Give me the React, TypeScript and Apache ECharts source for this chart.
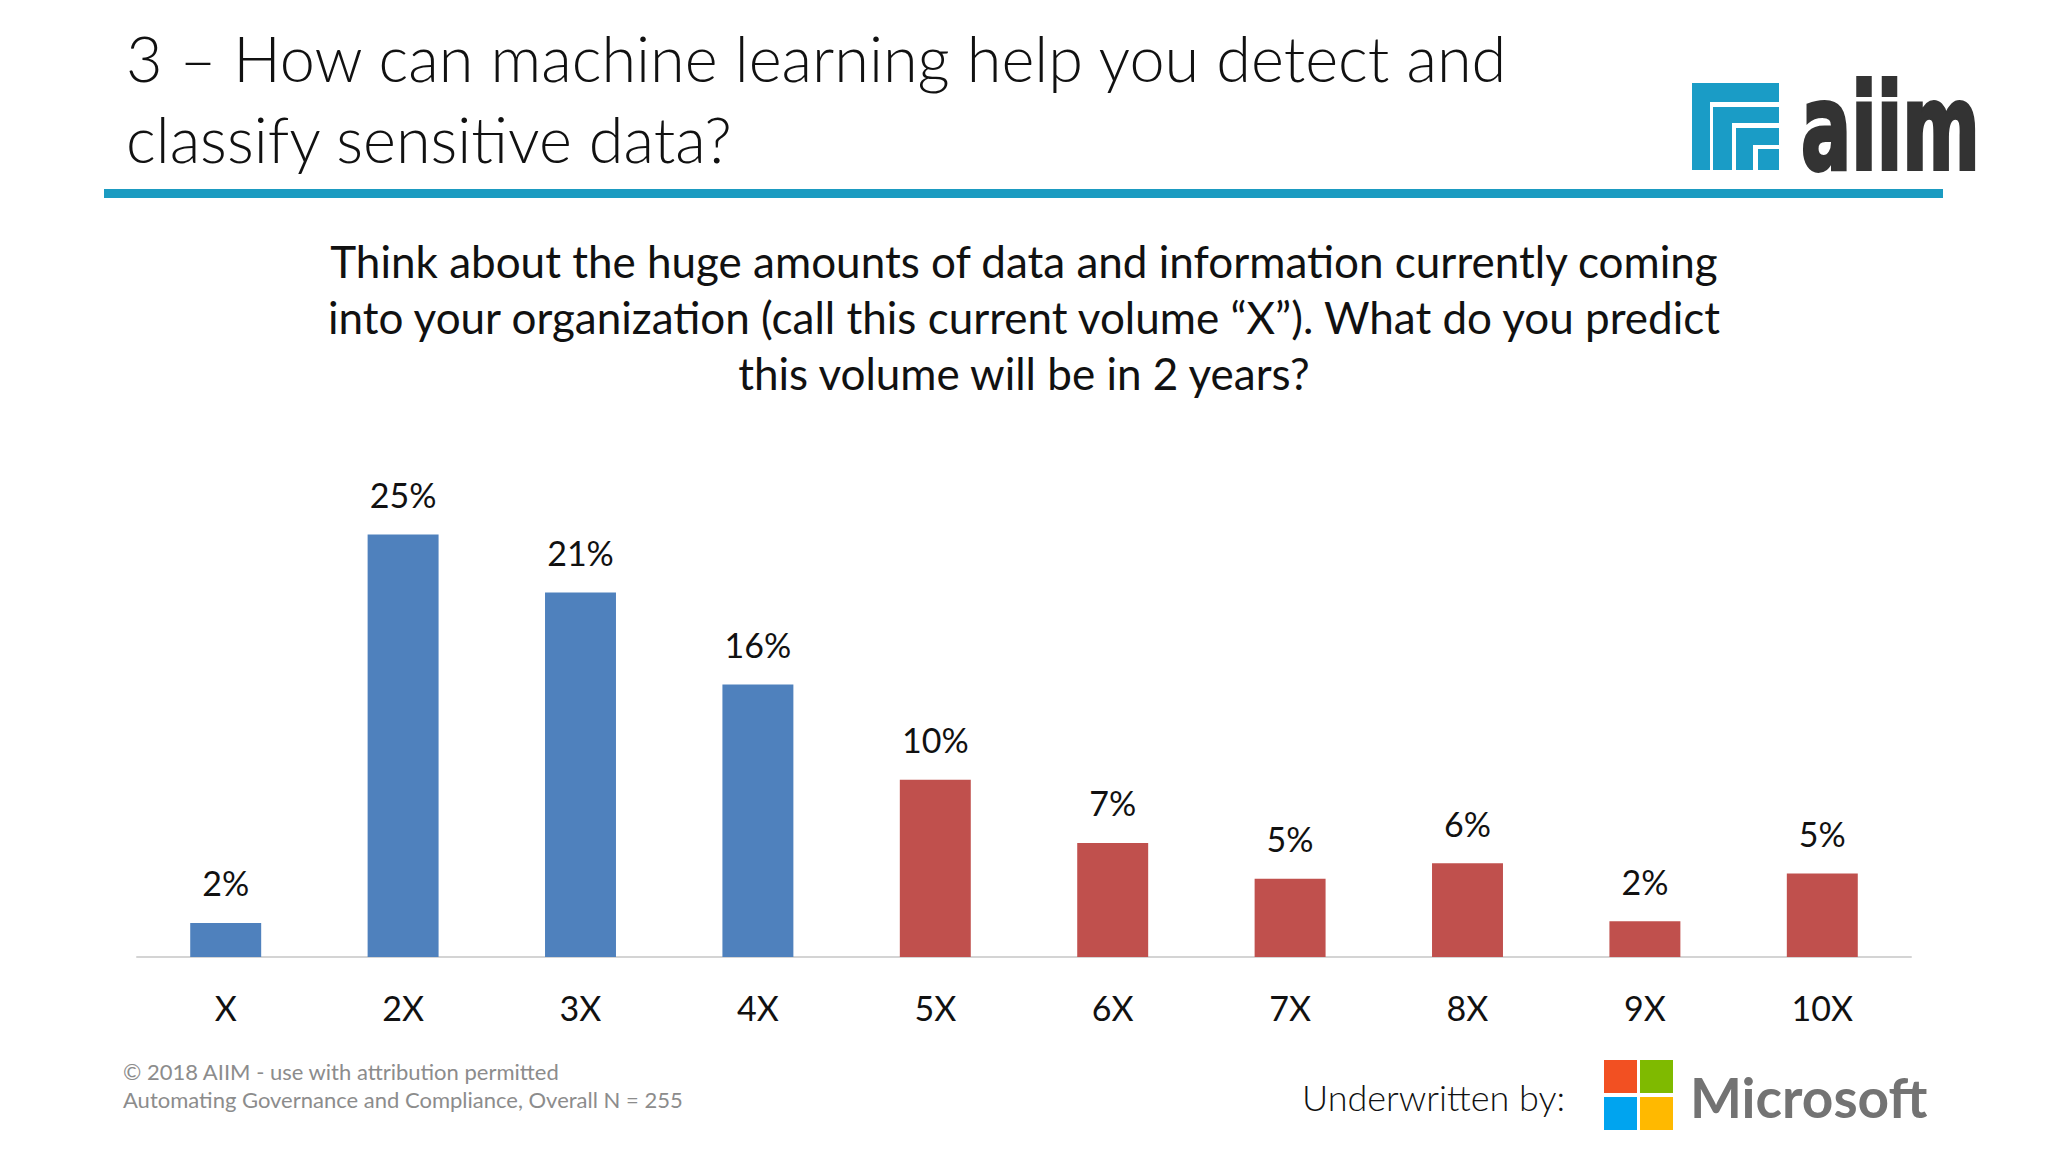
import React, { useEffect, useRef } from "react";
import * as echarts from "echarts";

const categories = ["X", "2X", "3X", "4X", "5X", "6X", "7X", "8X", "9X", "10X"];
const values = [2.0, 24.8, 21.4, 16.0, 10.4, 6.7, 4.6, 5.5, 2.1, 4.9];
const groups = ["low", "low", "low", "low", "high", "high", "high", "high", "high", "high"];
const groupColors: Record<string, string> = { low: "#4f81bd", high: "#c0504d" };

const titleLines = [
  "3 \u2013 How can machine learning help you detect and",
  "classify sensitive data?",
];
const subtitleLines = [
  "Think about the huge amounts of data and information currently coming",
  "into your organization (call this current volume \u201cX\u201d). What do you predict",
  "this volume will be in 2 years?",
];
const footerLines = [
  "\u00a9 2018 AIIM - use with attribution permitted",
  "Automating Governance and Compliance, Overall N = 255",
];

export default function App() {
  const ref = useRef<HTMLDivElement>(null);
  useEffect(() => {
    if (!ref.current) return;
    const chart = echarts.init(ref.current, undefined, { renderer: "svg" });
    const teal = "#1b9bc1";
    const font = "Lato, 'Open Sans', sans-serif";
    const graphic: any[] = [];
    titleLines.forEach((t, i) => {
      graphic.push({
        type: "text",
        x: 126,
        y: 57 + i * 81,
        style: { text: t, fontSize: 63, fontFamily: font, fontWeight: 300, fill: "#111", textAlign: "left", textVerticalAlign: "middle" },
      });
    });
    graphic.push({ type: "rect", shape: { x: 104, y: 189, width: 1839, height: 9 }, style: { fill: teal } });
    // aiim logo
    const logoRects = [
      [1692, 83, 87, 19], [1692, 83, 18, 87],
      [1713, 107, 66, 16], [1713, 107, 19, 63],
      [1736, 128, 43, 17], [1736, 128, 17, 42],
      [1758, 149, 21, 21],
    ];
    logoRects.forEach(([x, y, w, h]) => {
      graphic.push({ type: "rect", shape: { x, y, width: w, height: h }, style: { fill: "#1a9cc6" } });
    });
    graphic.push({
      type: "text",
      x: 1801,
      y: 128,
      scaleX: 0.62,
      style: { text: "aiim", fontSize: 120, fontFamily: "'DejaVu Sans', sans-serif", fontWeight: "bold", fill: "#333333", stroke: "#333333", lineWidth: 4, textAlign: "left", textVerticalAlign: "middle" },
    });
    subtitleLines.forEach((t, i) => {
      graphic.push({
        type: "text",
        x: 1024,
        y: 261 + i * 56,
        style: { text: t, fontSize: 44, fontFamily: font, fill: "#111", textAlign: "center", textVerticalAlign: "middle" },
      });
    });
    footerLines.forEach((t, i) => {
      graphic.push({
        type: "text",
        x: 123,
        y: 1071 + i * 28,
        style: { text: t, fontSize: 22, fontFamily: font, fill: "#8c8c8c", textAlign: "left", textVerticalAlign: "middle" },
      });
    });
    graphic.push({
      type: "text",
      x: 1302,
      y: 1097,
      style: { text: "Underwritten by:", fontSize: 36, fontFamily: font, fontWeight: 300, fill: "#111", textAlign: "left", textVerticalAlign: "middle" },
    });
    const ms = [
      [1604, 1060, "#f25022"], [1640, 1060, "#7fba00"],
      [1604, 1097, "#00a4ef"], [1640, 1097, "#ffb900"],
    ];
    ms.forEach(([x, y, c]) => {
      graphic.push({ type: "rect", shape: { x, y, width: 33, height: 33 }, style: { fill: c } });
    });
    graphic.push({
      type: "text",
      x: 1690,
      y: 1097,
      style: { text: "Microsoft", fontSize: 55, fontFamily: font, fontWeight: 700, fill: "#737373", textAlign: "left", textVerticalAlign: "middle" },
    });

    chart.setOption({
      animation: false,
      backgroundColor: "#ffffff",
      grid: { left: 137, right: 137, top: 446, bottom: 195, containLabel: false },
      xAxis: {
        type: "category",
        data: categories,
        axisLine: { show: true, lineStyle: { color: "#d4d4d4", width: 2 } },
        axisTick: { show: false },
        axisLabel: { color: "#111", fontSize: 34, fontFamily: font, margin: 33 },
      },
      yAxis: { type: "value", min: 0, max: 30, show: false, splitLine: { show: false } },
      series: [
        {
          type: "bar",
          barWidth: "40%",
          data: values.map((v, i) => ({ value: v, itemStyle: { color: groupColors[groups[i]] } })),
          label: {
            show: true,
            position: "top",
            distance: 23,
            formatter: (p: any) => Math.round(p.value) + "%",
            color: "#111",
            fontSize: 34,
            fontFamily: font,
          },
        },
      ],
      graphic,
    });
    return () => chart.dispose();
  }, []);
  return <div ref={ref} style={{ position: "fixed", left: 0, top: 0, width: 2048, height: 1152 }} />;
}
